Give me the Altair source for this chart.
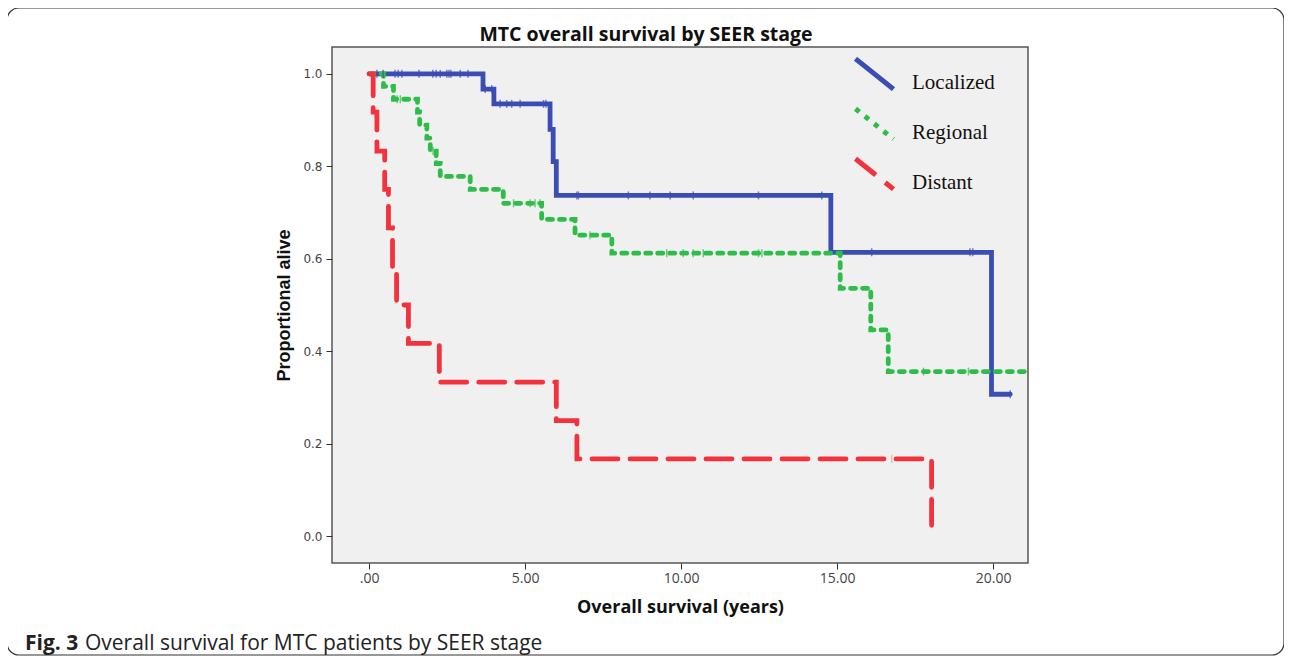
import altair as alt
import pandas as pd

# ---------------- data ----------------
stages = ["Localized", "Regional", "Distant"]
colors = ["#3b4db3", "#2fbd4a", "#f2323c"]

loc_t = [0.0, 3.65, 4.0, 5.8, 5.9, 6.0, 14.8, 19.95, 20.55]
loc_s = [1.0, 0.967, 0.935, 0.88, 0.81, 0.737, 0.614, 0.307, 0.307]

reg_t = [0.0, 0.46, 0.78, 1.55, 1.62, 1.85, 1.96, 2.15, 2.28, 3.24, 4.3, 5.53, 6.6, 7.78, 15.1, 16.08, 16.64, 21.5]
reg_s = [1.0, 0.973, 0.945, 0.917, 0.889, 0.861, 0.833, 0.806, 0.778, 0.75, 0.72, 0.685, 0.651, 0.612, 0.536, 0.446, 0.356, 0.356]

dis_t = [0.0, 0.13, 0.25, 0.5, 0.62, 0.75, 0.88, 1.26, 2.25, 6.0, 6.66, 18.03]
dis_s = [1.0, 0.917, 0.833, 0.75, 0.667, 0.583, 0.5, 0.417, 0.333, 0.25, 0.167, 0.0]

# censored observations (time, survival)
loc_cens_t = [0.25, 0.45, 0.83, 0.93, 1.05, 1.6, 2.04, 2.15, 2.28, 2.49, 2.56, 2.62, 2.92, 3.17,
              3.72, 3.93,
              4.2, 4.41, 4.57, 4.84, 5.59, 5.67,
              6.66, 6.71, 8.31, 9.0, 9.65, 10.39, 12.48, 14.51,
              16.11, 19.26, 19.35,
              20.55]
loc_cens_s = [1.0] * 14 + [0.967] * 2 + [0.935] * 6 + [0.737] * 8 + [0.614] * 3 + [0.307]

reg_cens_t = [0.9, 1.0, 2.05, 4.63, 5.16, 5.32, 5.48, 7.08,
              9.54, 10.07, 10.39, 10.71, 12.48, 12.59, 17.77, 19.21]
reg_cens_s = [0.945, 0.945, 0.833, 0.72, 0.72, 0.72, 0.72, 0.651,
              0.612, 0.612, 0.612, 0.612, 0.612, 0.612, 0.356, 0.356]

dis_cens_t = [16.75]
dis_cens_s = [0.167]

x_ticks = [0, 5, 10, 15, 20]
y_ticks = [0.0, 0.2, 0.4, 0.6, 0.8, 1.0]

title_text = "MTC overall survival by SEER stage"
x_title = "Overall survival (years)"
y_title = "Proportional alive"
caption_bold = "Fig. 3"
caption_rest = "Overall survival for MTC patients by SEER stage"

# ---------------- tables ----------------
curves = pd.concat([
    pd.DataFrame({"stage": "Localized", "t": loc_t, "s": loc_s}),
    pd.DataFrame({"stage": "Regional", "t": reg_t, "s": reg_s}),
    pd.DataFrame({"stage": "Distant", "t": dis_t, "s": dis_s}),
], ignore_index=True)

col_map = dict(zip(stages, colors))
cens = pd.concat([
    pd.DataFrame({"stage": "Localized", "t": loc_cens_t, "s": loc_cens_s}),
    pd.DataFrame({"stage": "Regional", "t": reg_cens_t, "s": reg_cens_s}),
    pd.DataFrame({"stage": "Distant", "t": dis_cens_t, "s": dis_cens_s}),
], ignore_index=True)
cens["col"] = cens["stage"].map(col_map)
cens.loc[cens["stage"] == "Distant", "col"] = "#d9b58a"

one = pd.DataFrame({"k": [0]})

xs = alt.Scale(domain=[-1.19, 21.12], nice=False, zero=False)
ys = alt.Scale(domain=[-0.058, 1.058], nice=False, zero=False)

x_axis = alt.Axis(values=x_ticks, title=x_title,
                  labelExpr="datum.value == 0 ? '.00' : format(datum.value, '.2f')",
                  grid=False, domain=False, ticks=True, tickSize=6, tickColor="#333",
                  labelFont="Open Sans", labelFontSize=14, labelColor="#444", labelPadding=2,
                  titleFont="Open Sans", titleFontSize=18, titleFontWeight="bold",
                  titleColor="#111", titlePadding=13)
y_axis = alt.Axis(values=y_ticks, format=".1f", title=y_title,
                  grid=False, domain=False, ticks=True, tickSize=6, tickColor="#333",
                  labelFont="DejaVu Sans", labelFontSize=12, labelColor="#444", labelPadding=4,
                  titleFont="Liberation Sans", titleFontSize=18, titleFontWeight="bold",
                  titleColor="#111", titlePadding=9)

lines = alt.Chart(curves).mark_line(interpolate="step-after", strokeWidth=4.8,
                                    strokeCap="round", clip=True).encode(
    x=alt.X("t:Q", scale=xs, axis=x_axis),
    y=alt.Y("s:Q", scale=ys, axis=y_axis),
    color=alt.Color("stage:N", scale=alt.Scale(domain=stages, range=colors), title=None),
    strokeDash=alt.StrokeDash("stage:N", scale=alt.Scale(domain=stages,
                                                          range=[[1, 0], [5, 7], [26, 12]]),
                              title=None),
)

ticks = alt.Chart(cens).mark_point(shape="M0,-1L0,1", size=64, filled=False,
                                   strokeWidth=1.5, clip=True).encode(
    x=alt.X("t:Q", scale=xs),
    y=alt.Y("s:Q", scale=ys),
    color=alt.Color("col:N", scale=None),
)

frame = alt.Chart(one).mark_rect(fill=None, stroke="#333", strokeWidth=1.2,
                                 cornerRadius=12).encode(
    x=alt.value(-325), x2=alt.value(952), y=alt.value(-39), y2=alt.value(608))

title = alt.Chart(one).mark_text(text=title_text, font="Open Sans", fontSize=19.5,
                                 fontWeight="bold", color="#111", align="center",
                                 baseline="alphabetic").encode(
    x=alt.value(314), y=alt.value(-6))

cap1 = alt.Chart(one).mark_text(text=caption_bold, font="Open Sans", fontSize=21,
                                fontWeight="bold", color="#222", align="left",
                                baseline="alphabetic").encode(
    x=alt.value(-307), y=alt.value(603))
cap2 = alt.Chart(one).mark_text(text=caption_rest, font="Open Sans", fontSize=21,
                                color="#222", align="left",
                                baseline="alphabetic").encode(
    x=alt.value(-247), y=alt.value(603))

chart = alt.layer(frame, lines, ticks, title, cap1, cap2).properties(
    width=696, height=516,
    padding={"left": 324, "top": 39, "right": 256, "bottom": 93},
    autosize=alt.AutoSizeParams(type="none"),
).configure_view(
    fill="#f0f0f0", stroke="#555", strokeWidth=1.5
).configure_legend(
    orient="none", legendX=521, legendY=14, padding=0,
    symbolType="M-1,-1.25L1,0.35", symbolSize=1444, symbolStrokeWidth=5,
    symbolOpacity=1,
    labelFont="Liberation Serif", labelFontSize=21, labelColor="#111",
    labelOffset=16, rowPadding=-2, labelBaseline="middle",
)

chart.save("out.html", embed_options={"renderer": "svg", "actions": False})
